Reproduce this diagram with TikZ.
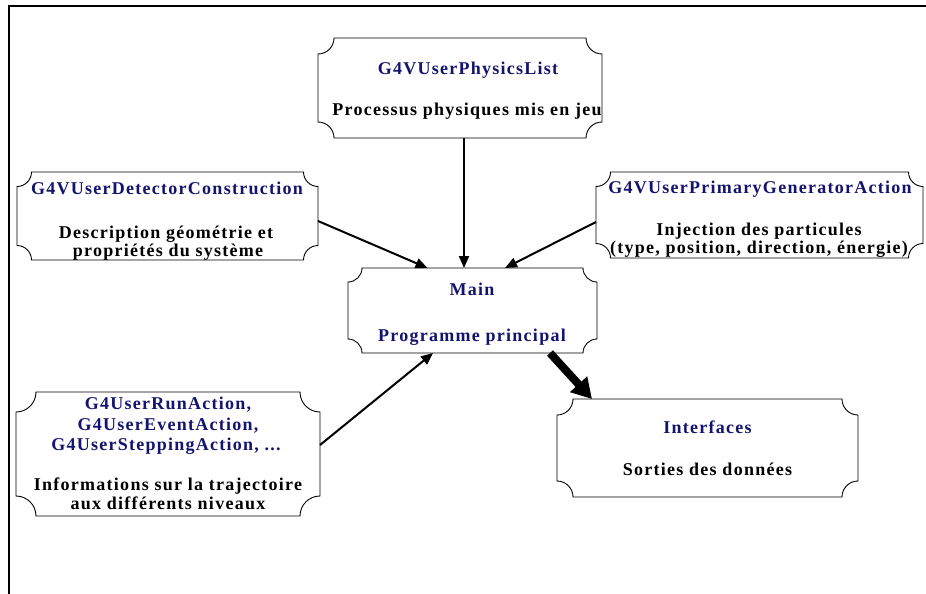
\documentclass[tikz,border=0pt]{standalone}
\usepackage{fontspec}
\newfontfamily\boxfont{Liberation Serif}[LetterSpace=7]
\usetikzlibrary{arrows.meta}
\definecolor{navyT}{RGB}{20,20,110}
\tikzset{
  area/.style={inner sep=0pt, outer sep=0pt, draw=none, rectangle},
  boxline/.style={draw=black, line width=0.9pt},
  txt/.style={anchor=base, inner sep=0pt, outer sep=0pt, font=\boxfont\bfseries\fontsize{18}{20}\selectfont},
  ttl/.style={txt, text=navyT},
  arr/.style={-{Triangle[length=12pt,width=10pt]}, line width=2pt},
  bigarr/.style={-{Triangle[length=20pt,width=22pt]}, line width=8pt}
}
\newcommand\plaquebox[2]{%
  \draw[boxline] ([xshift=#2]#1.north west) -- ([xshift=-#2]#1.north east)
    arc[start angle=180,end angle=270,radius=#2] -- ([yshift=#2]#1.south east)
    arc[start angle=90,end angle=180,radius=#2] -- ([xshift=#2]#1.south west)
    arc[start angle=0,end angle=90,radius=#2] -- ([yshift=-#2]#1.north west)
    arc[start angle=270,end angle=360,radius=#2] -- cycle;}
\begin{document}
\begin{tikzpicture}[x=1pt,y=1pt]
\useasboundingbox[fill=white] (0,0) rectangle (926,-594);
% frame
\draw[line width=2pt] (9,-594) -- (9,-6) -- (926,-6);
% boxes
\node[area, minimum width=284pt, minimum height=100pt] (phys) at (460,-88) {};
\node[area, minimum width=301pt, minimum height=88pt] (det) at (167.5,-216) {};
\node[area, minimum width=327pt, minimum height=86pt] (gen) at (759.5,-215) {};
\node[area, minimum width=249pt, minimum height=85pt] (main) at (472.5,-310.5) {};
\node[area, minimum width=304pt, minimum height=124pt] (run) at (168,-454) {};
\node[area, minimum width=301pt, minimum height=98pt] (int) at (707.5,-448) {};
\plaquebox{phys}{16pt}
\plaquebox{det}{14.5pt}
\plaquebox{gen}{14.5pt}
\plaquebox{main}{14pt}
\plaquebox{run}{20pt}
\plaquebox{int}{16pt}
% texts
\node[ttl] (physT) at (468,-74.3) {G4VUserPhysicsList};
\node[txt] (physD) at (467,-115) {Processus physiques mis en jeu};
\node[ttl] (detT) at (167,-194) {G4VUserDetectorConstruction};
\node[txt] (detD1) at (166,-238.3) {Description géométrie et};
\node[txt] (detD2) at (168,-256.5) {propriétés du système};
\node[ttl] (genT) at (760,-193) {G4VUserPrimaryGeneratorAction};
\node[txt] (genD1) at (759,-235) {Injection des particules};
\node[txt] (genD2) at (759,-253) {(type, position, direction, énergie)};
\node[ttl] (mainT) at (472,-295) {Main};
\node[ttl] (mainD) at (472,-341.7) {Programme principal};
\node[ttl] (runT1) at (168,-409) {G4UserRunAction,};
\node[ttl] (runT2) at (168,-430.5) {G4UserEventAction,};
\node[ttl] (runT3) at (166,-450) {G4UserSteppingAction, ...};
\node[txt] (runD1) at (168,-490.5) {Informations sur la trajectoire};
\node[txt] (runD2) at (168,-509) {aux différents niveaux};
\node[ttl] (intT) at (707.5,-433) {Interfaces};
\node[txt] (intD) at (707.5,-475) {Sorties des données};
% connectors
\draw[arr] ([xshift=4pt]phys.south) -- ([xshift=-8.5pt]main.north);
\draw[arr] ([yshift=-5pt]det.east) -- ([xshift=-45pt]main.north);
\draw[arr] ([yshift=-7pt]gen.west) -- ([xshift=32.5pt]main.north);
\draw[arr] ([yshift=9pt]run.east) -- ([xshift=-39.5pt]main.south);
\draw[bigarr] ([xshift=77.5pt]main.south) -- ([xshift=35pt]int.north west);
\end{tikzpicture}
\end{document}
